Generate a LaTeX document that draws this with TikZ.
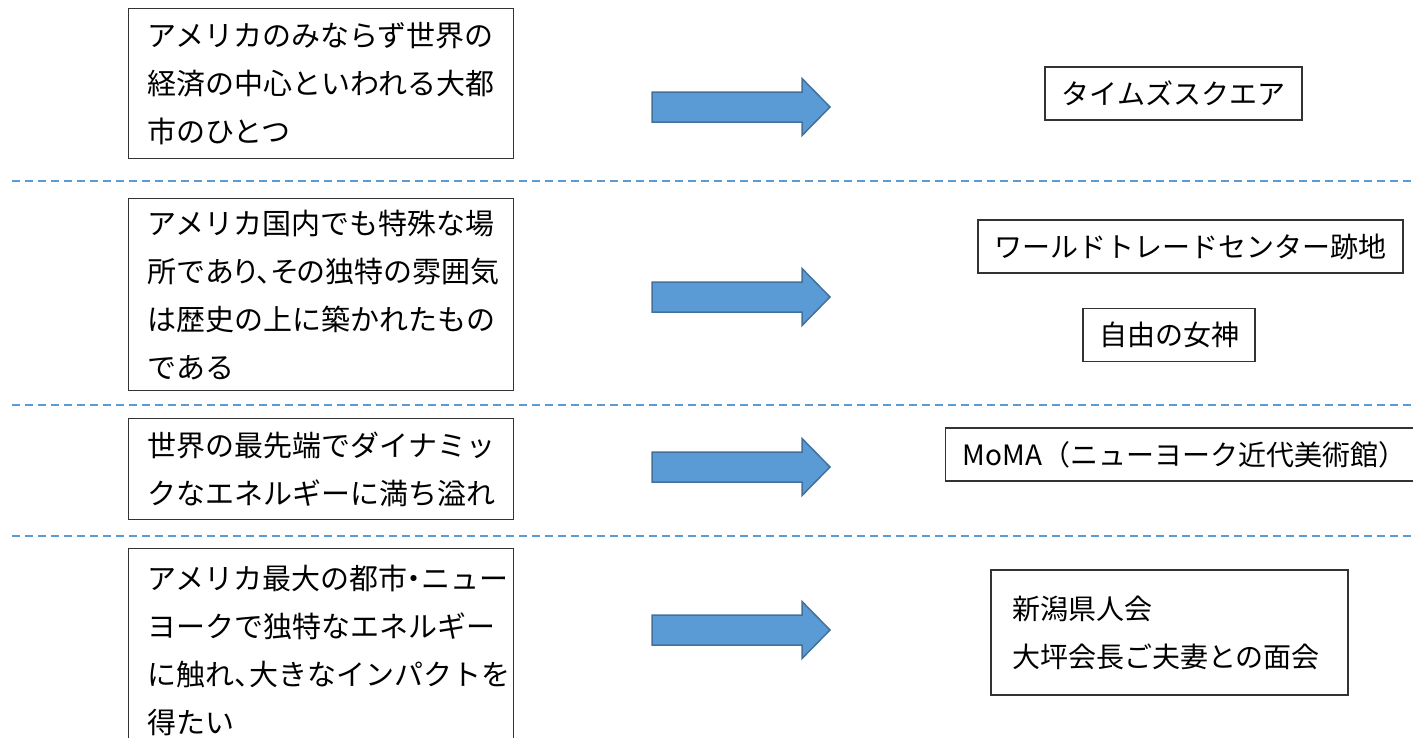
\documentclass[tikz,border=0pt]{standalone}
\usepackage{fontspec}
\setmainfont{Noto Sans CJK JP}
\newfontfamily\halfpunct[RawFeature=+halt]{Noto Sans CJK JP}
\newfontfamily\propkana[RawFeature=+palt]{Noto Sans CJK JP}
\newcommand\hp[1]{{\halfpunct #1}}
\definecolor{arrowfill}{HTML}{5B9BD5}
\definecolor{arrowedge}{HTML}{41719C}
\definecolor{sepline}{HTML}{5B9BD5}
\definecolor{boxedge}{HTML}{333333}
\tikzset{
  leftbox/.style={draw=boxedge, line width=1.2pt, anchor=north west, align=left,
    text width=347pt, inner xsep=19pt, inner ysep=0pt, minimum width=385pt,
    font=\fontsize{29}{48}\selectfont},
  rightbox/.style={draw=boxedge, line width=1.2pt, inner ysep=0pt, minimum height=53pt,
    font=\fontsize{28}{48}\selectfont},
  sepdash/.style={draw=sepline, line width=1.6pt, dash pattern=on 8pt off 5pt},
  blockarr/.style={fill=arrowfill, draw=arrowedge, line width=1.5pt, line join=miter},
}
\begin{document}
\begin{tikzpicture}[x=1pt, y=-1pt]
\useasboundingbox (0,0) rectangle (1413,737);

% left boxes
\node[leftbox, minimum height=150pt] (l1) at (128,8)
  {アメリカのみならず世界の\\経済の中心といわれる大都\\市のひとつ};
\node[leftbox, minimum height=192pt] (l2) at (128,198)
  {アメリカ国内でも特殊な場\\所で{\propkana あり、その}独特の雰囲気\\は歴史の上に築かれたもの\\である};
\node[leftbox, minimum height=101pt] (l3) at (128,418)
  {世界の最先端でダイナミッ\\クなエネルギーに満ち溢れ};
\node[leftbox, minimum height=203pt] (l4) at (128,548)
  {アメリカ最大の都市\hp{・}ニュー\\ヨークで独特なエネルギー\\に触れ\hp{、}大きなインパクトを\\得たい};

% dashed separators
\coordinate (s1a) at (12,181);  \coordinate (s1b) at (1413,181);
\coordinate (s2a) at (12,405);  \coordinate (s2b) at (1413,405);
\coordinate (s3a) at (12,536);  \coordinate (s3b) at (1413,536);
\draw[sepdash] (s1a) -- (s1b);
\draw[sepdash] (s2a) -- (s2b);
\draw[sepdash] (s3a) -- (s3b);

% block arrows
\foreach \yy in {107,297,467,630} {
  \filldraw[blockarr] (652,\yy-15) -- (802,\yy-15) -- (802,\yy-28.5) -- (830,\yy)
    -- (802,\yy+28.5) -- (802,\yy+15) -- (652,\yy+15) -- cycle;
}

% right boxes
\node[rightbox, minimum width=257pt] (r1) at (1173.5,93.5) {タイムズスクエア};
\node[rightbox, minimum width=425pt] (r2) at (1190.5,246.5) {ワールドトレードセンター跡地};
\node[rightbox, minimum width=172pt] (r3) at (1169,335) {自由の女神};
\node[rightbox, anchor=west, align=left, text width=480pt, inner xsep=17pt] (r4) at (945,454.5)
  {MoMA（ニューヨーク近代美術館）};
\node[rightbox, minimum width=357pt, minimum height=125pt, align=left, text width=315pt, inner xsep=21pt] (r5) at (1169.5,632.5)
  {新潟県人会\\大坪会長ご夫妻との面会};
\end{tikzpicture}
\end{document}
